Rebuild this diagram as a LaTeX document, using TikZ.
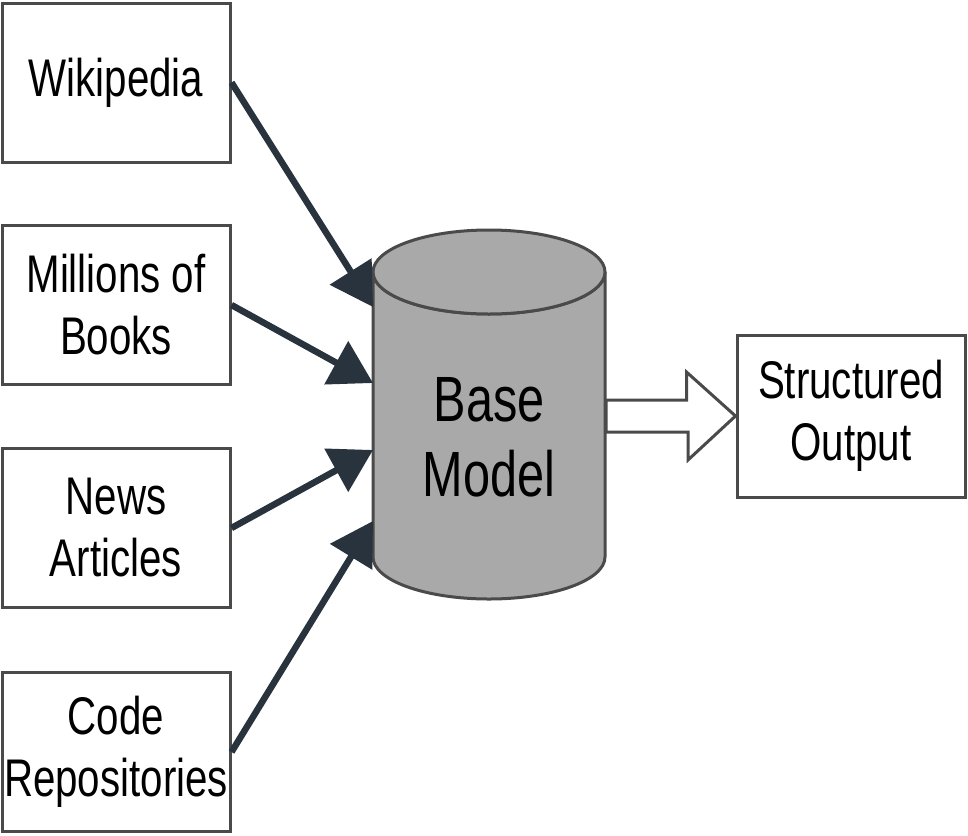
\documentclass[tikz,border=0pt]{standalone}
\usepackage{fontspec}
\setmainfont{Liberation Sans}[FakeStretch=0.76]
\usepackage{tikz}
\usetikzlibrary{arrows.meta}
\definecolor{boxgray}{HTML}{4A4A4A}
\definecolor{arrowdark}{HTML}{29333D}
\definecolor{cylfill}{HTML}{A9A9A9}
\tikzset{>={Triangle[width=48pt,length=42pt]}}
\tikzset{
  srcbox/.style={draw=boxgray, line width=3pt, fill=white, minimum width=228pt,
    minimum height=159pt, inner sep=0pt, align=center,
    font=\fontsize{53}{62}\selectfont},
  feed/.style={->, draw=arrowdark, fill=arrowdark, line width=6.5pt},
  hollow/.style={draw=boxgray, line width=3pt, fill=white, line join=miter},
}

\begin{document}
\begin{tikzpicture}[x=1pt, y=-1pt]

  \useasboundingbox[fill=white] (0,0) rectangle (968,835);

  % sources
  \node[srcbox] (wiki)  at (116, 82.5) {Wikipedia};
  \node[srcbox] (books) at (116, 305)  {Millions of\\Books};
  \node[srcbox] (news)  at (116, 528)  {News\\Articles};
  \node[srcbox] (code)  at (116, 752)  {Code\\Repositories};

  % base model cylinder
  \draw[draw=boxgray, line width=3pt, fill=cylfill]
    (373,272) -- (373,557) arc[start angle=180, end angle=0, x radius=116, y radius=42]
    -- (605,272) arc[start angle=0, end angle=180, x radius=116, y radius=42] -- cycle;
  \draw[draw=boxgray, line width=3pt, fill=cylfill] (489,272) ellipse[x radius=116, y radius=42];
  \node[font=\fontsize{64}{75}\selectfont, align=center] (base) at (489,437) {Base\\Model};

  \coordinate (in1) at (373,307);
  \coordinate (in2) at (373,383);
  \coordinate (in3) at (373,450);
  \coordinate (in4) at (373,521);

  % output
  \node[srcbox, minimum height=162pt] (out) at (851,416) {Structured\\Output};

  \draw[feed] (wiki.east)  -- (in1);
  \draw[feed] (books.east) -- (in2);
  \draw[feed] (news.east)  -- (in3);
  \draw[feed] (code.east)  -- (in4);

  \draw[hollow] (out.west) -- ++(-49,-44) -- ++(0,28) -- (606,400) -- (606,432)
    -- ++(82,0) -- ++(0,28) -- cycle;

\end{tikzpicture}
\end{document}
